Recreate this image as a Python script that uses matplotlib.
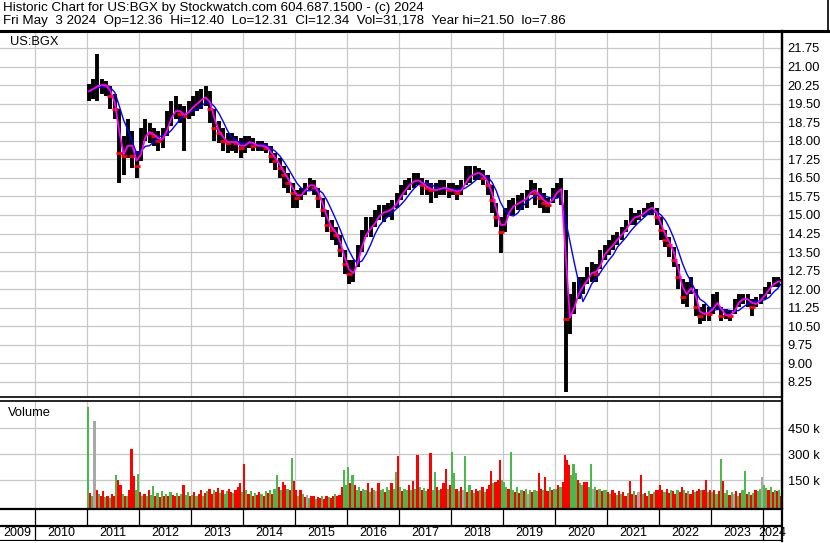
import numpy as np
import pandas as pd
import matplotlib
matplotlib.use("Agg")
import matplotlib.pyplot as plt
from matplotlib.lines import Line2D

plt.rcParams['font.family'] = ['Liberation Sans', 'DejaVu Sans']

# monthly bars, Jan 2011 .. May 2024 (last one is May 3)
close = [20.0, 20.2, 20.2, 20.3, 20.2, 19.8, 19.3, 17.5, 17.4, 18.2, 17.4, 17.0,
         17.9, 18.4, 18.3, 18.2, 18.0, 18.1, 18.7, 19.1, 19.3, 19.1, 19.0, 19.3,
         19.4, 19.6, 19.7, 19.8, 19.3, 18.5, 18.3, 18.0, 17.9, 18.0, 17.9, 17.7,
         17.9, 18.0, 17.8, 17.8, 17.8, 17.7, 17.4, 17.2, 16.9, 16.6, 16.3, 15.9,
         15.7, 15.9, 16.1, 16.3, 16.1, 15.7, 15.2, 14.6, 14.4, 14.2, 13.6, 13.0,
         12.6, 12.7, 13.4, 14.0, 14.4, 14.5, 14.8, 15.1, 15.1, 15.2, 15.3, 15.6,
         15.9, 16.1, 16.3, 16.4, 16.4, 16.2, 16.1, 16.0, 16.0, 16.1, 16.1, 16.0,
         16.0, 15.9, 16.1, 16.5, 16.6, 16.7, 16.7, 16.5, 16.2, 15.6, 14.9, 14.3,
         14.9, 15.3, 15.4, 15.5, 15.6, 15.7, 16.1, 15.9, 15.7, 15.5, 15.4, 15.8,
         16.0, 16.1, 10.8, 10.9, 11.6, 12.0, 12.2, 12.5, 12.8, 12.6, 13.3, 13.5,
         13.7, 13.9, 14.1, 14.3, 14.5, 14.9, 14.9, 15.0, 15.1, 15.3, 15.3, 14.9,
         14.4, 14.0, 13.8, 13.2, 12.5, 11.7, 11.9, 12.2, 11.3, 10.9, 11.1, 11.0,
         11.4, 11.5, 10.9, 11.0, 10.9, 11.3, 11.6, 11.6, 11.6, 11.3, 11.5, 11.6,
         11.9, 12.1, 12.3, 12.3, 12.34]
high = [20.3, 20.5, 21.5, 20.5, 20.4, 20.2, 19.9, 19.3, 18.2, 18.9, 18.4, 17.6,
        18.5, 18.9, 18.7, 18.5, 18.4, 18.5, 19.2, 19.6, 19.8, 19.5, 19.4, 19.6,
        19.8, 20.0, 20.1, 20.2, 20.0, 19.3, 18.8, 18.5, 18.3, 18.3, 18.2, 18.1,
        18.2, 18.2, 18.1, 18.0, 18.0, 17.9, 17.8, 17.5, 17.3, 17.0, 16.7, 16.3,
        16.0, 16.1, 16.3, 16.5, 16.4, 16.1, 15.7, 15.2, 14.8, 14.5, 14.2, 13.6,
        13.2, 13.2, 13.8, 14.4, 14.9, 14.9, 15.2, 15.4, 15.4, 15.5, 15.6, 15.9,
        16.2, 16.4, 16.5, 16.7, 16.7, 16.5, 16.4, 16.3, 16.3, 16.4, 16.4, 16.3,
        16.3, 16.2, 16.4, 17.0, 17.0, 17.0, 16.9, 16.8, 16.6, 16.2, 15.5, 14.9,
        15.3, 15.6, 15.7, 15.8, 15.9, 16.0, 16.4, 16.3, 16.1, 15.9, 15.7, 16.1,
        16.3, 16.5, 16.0, 11.8, 12.3, 12.5, 12.5, 12.9, 13.1, 13.0, 13.6, 13.8,
        14.0, 14.2, 14.3, 14.5, 14.8, 15.3, 15.1, 15.2, 15.3, 15.5, 15.53, 15.3,
        14.9, 14.4, 14.1, 13.7, 13.0, 12.4, 12.3, 12.5, 12.0, 11.3, 11.4, 11.3,
        11.8, 11.9, 11.3, 11.2, 11.1, 11.6, 11.8, 11.8, 11.8, 11.6, 11.7, 11.8,
        12.1, 12.3, 12.5, 12.5, 12.40]
low = [19.6, 19.7, 19.6, 19.9, 19.8, 19.3, 18.9, 16.3, 16.6, 17.3, 16.9, 16.5,
       17.2, 18.0, 17.9, 17.8, 17.6, 17.7, 18.2, 18.6, 18.9, 18.7, 17.6, 18.9,
       19.0, 19.2, 19.3, 19.4, 18.7, 18.0, 17.9, 17.6, 17.5, 17.6, 17.5, 17.3,
       17.5, 17.7, 17.6, 17.6, 17.6, 17.5, 17.1, 16.8, 16.5, 16.1, 15.9, 15.3,
       15.3, 15.6, 15.8, 16.0, 15.8, 15.3, 14.9, 14.3, 14.0, 13.8, 13.3, 12.6,
       12.2, 12.3, 12.9, 13.5, 14.1, 14.1, 14.5, 14.8, 14.7, 14.9, 14.8, 15.3,
       15.6, 15.8, 16.0, 16.1, 16.2, 15.8, 15.8, 15.5, 15.7, 15.8, 15.8, 15.7,
       15.8, 15.6, 15.8, 16.2, 16.3, 16.4, 16.4, 16.2, 15.8, 15.1, 14.5, 13.46,
       14.3, 15.0, 15.0, 15.2, 15.2, 15.3, 15.8, 15.4, 15.3, 15.1, 15.1, 15.5,
       15.7, 15.4, 7.86, 10.2, 11.0, 11.6, 11.8, 12.2, 12.3, 12.3, 12.8, 13.2,
       13.4, 13.6, 13.8, 14.0, 14.3, 14.6, 14.6, 14.8, 14.9, 15.0, 15.0, 14.6,
       14.0, 13.7, 13.3, 12.9, 12.0, 11.4, 11.3, 11.8, 10.9, 10.6, 10.7, 10.7,
       11.0, 11.2, 10.7, 10.8, 10.7, 11.0, 11.3, 11.4, 11.3, 10.9, 11.3, 11.4,
       11.6, 11.8, 12.1, 12.1, 12.31]

# half-month volume (thousands) and bar colour (g up, r down, n unchanged)
vol_2011 = [570, 75, 60, 490, 90, 70, 55, 85, 50, 60, 45, 70, 55, 180, 150, 120, 70, 55, 60, 90, 330, 175, 95, 185]
vol_2012 = [80, 60, 70, 55, 90, 65, 115, 60, 75, 50, 85, 60, 70, 55, 80, 65, 60, 75, 55, 70, 120, 65, 80, 60]
vol_2013 = [65, 80, 55, 70, 90, 60, 75, 85, 100, 70, 95, 80, 105, 75, 90, 70, 85, 100, 80, 75, 90, 110, 135, 80]
vol_2014 = [245, 95, 70, 85, 60, 75, 65, 80, 70, 60, 85, 75, 90, 70, 100, 180, 110, 95, 140, 120, 100, 95, 275, 145]
vol_2015 = [90, 60, 95, 70, 50, 65, 45, 55, 60, 40, 50, 45, 55, 40, 60, 50, 45, 55, 70, 60, 65, 110, 210, 120]
vol_2016 = [225, 130, 180, 120, 95, 110, 85, 100, 90, 130, 80, 105, 95, 85, 130, 90, 100, 80, 110, 90, 130, 100, 195, 290]
vol_2017 = [110, 85, 100, 95, 120, 90, 145, 100, 295, 110, 90, 105, 85, 100, 305, 95, 195, 110, 90, 100, 135, 215, 100, 120]
vol_2018 = [310, 190, 100, 85, 110, 95, 290, 80, 120, 90, 75, 100, 85, 95, 110, 80, 100, 120, 200, 130, 140, 150, 265, 150]
vol_2019 = [140, 110, 100, 310, 95, 80, 110, 75, 90, 85, 100, 70, 95, 80, 90, 85, 190, 100, 90, 170, 85, 110, 95, 100]
vol_2020 = [100, 120, 110, 140, 295, 265, 235, 180, 240, 190, 150, 130, 120, 140, 140, 110, 245, 100, 110, 90, 100, 85, 95, 90]
vol_2021 = [80, 70, 90, 75, 65, 85, 70, 80, 60, 75, 145, 70, 85, 65, 80, 180, 70, 75, 60, 85, 70, 80, 95, 90]
vol_2022 = [120, 90, 80, 100, 75, 90, 85, 70, 95, 80, 110, 90, 75, 85, 70, 90, 80, 85, 100, 90, 95, 150, 80, 90]
vol_2023 = [80, 95, 70, 85, 270, 145, 75, 90, 65, 80, 70, 85, 60, 75, 90, 200, 70, 80, 65, 75, 90, 85, 100, 165]
vol_2024 = [120, 105, 90, 110, 80, 95, 85, 95, 60]
col_codes = ("grgnrgrrgrgrrgrrgrgrrrgg"
             "rgrgrggrgrgrgrgrrgrgrggr"
             "grgrrgrgrrgrrgrggrrgrrrg"
             "rgrgrgrrgrgrgrggrgrrgrgr"
             "rgrgrngrrgrrgrrgrrgrrrgg"
             "grgrggrggrgrgnrggrggrggr"
             "grggrgrgrgrggrrggrgrrrgr"
             "ggrgrngrgrgrrgrgrrrgrrrg"
             "ggrggrgrgrgngrggrrgrrgrg"
             "grgrrrrgggrggrrggngrgrgg"
             "rgrrgrgrrgrrgrnrgrrgrgrr"
             "rrgrrgrrgrrgrgrrgrrgrrgr"
             "grgrgrggrgnrgrggrgrgrggn"
             "ggrgrgrgr")

years = list(range(2009, 2025))
price_ticks = [21.75, 21.00, 20.25, 19.50, 18.75, 18.00, 17.25, 16.50, 15.75, 15.00,
               14.25, 13.50, 12.75, 12.00, 11.25, 10.50, 9.75, 9.00, 8.25]
vol_ticks = [150, 300, 450]

W, H = 830, 543
x0, x1 = 2009.327, 2024.365


def decyear(d):
    d = pd.Timestamp(d)
    return d.year + (d.dayofyear - 1) / 365.25


months = pd.date_range('2011-01-01', periods=len(close) - 1, freq='MS') + pd.Timedelta(days=14)
mdates = np.array([decyear(d) for d in months] + [decyear('2024-05-03')])

vols = np.array(vol_2011 + vol_2012 + vol_2013 + vol_2014 + vol_2015 + vol_2016 + vol_2017
                + vol_2018 + vol_2019 + vol_2020 + vol_2021 + vol_2022 + vol_2023 + vol_2024)
vdates = 2011 + (np.arange(len(vols)) + 0.5) / 24
cmap = {'g': '#4cb84c', 'r': '#ff0000', 'n': '#a8a8a8'}
vcols = [cmap[c] for c in col_codes]

cl = pd.Series(close)
ma_short = cl.rolling(2, min_periods=1).mean()
ma_long = cl.rolling(5, min_periods=1).mean()

fig = plt.figure(figsize=(W / 100, H / 100), dpi=100)
grid_c = '#c8c8c8'
year_lines = years[1:]  # boundaries inside the view


def fbox(top, bottom):
    return [0, 1 - bottom / H, 782 / W, (bottom - top) / H]


# price panel
ax = fig.add_axes(fbox(31, 397))
ax.vlines(mdates, low, high, color='black', lw=2.8)
down = np.r_[False, np.diff(close) < 0]
ax.plot(mdates[down], np.array(close)[down], ls='none', marker='_', ms=4, mew=2, color='red')
ax.plot(mdates, ma_long, color='#0000ff', lw=1.0)
ax.plot(mdates, ma_short, color='#ff00ff', lw=1.3)
ax.set_yticks(price_ticks)
ax.set_yticklabels([f'{t:.2f}' for t in price_ticks])
ax.set_xticks(year_lines)
ax.set_xlim(x0, x1)
ax.set_ylim(7.643, 22.437)
ax.grid(True, color=grid_c, lw=0.9)
ax.set_axisbelow(True)
ax.yaxis.tick_right()
ax.tick_params(axis='y', length=0, pad=4, labelsize=9.3)
ax.tick_params(axis='x', length=0, labelbottom=False)
for s in ['left', 'top']:
    ax.spines[s].set_visible(False)
ax.spines['right'].set_linewidth(1.6)
ax.spines['bottom'].set_linewidth(1.2)
ax.text(10 / 782, 1 - 11 / 366, 'US:BGX', transform=ax.transAxes, fontsize=9.3, va='center')

# volume panel
axv = fig.add_axes(fbox(401, 509))
axv.bar(vdates, vols + 17.3, width=1 / 24, bottom=-17.3, color=vcols, lw=0)
axv.set_yticks(vol_ticks)
axv.set_yticklabels([f'{t} k' for t in vol_ticks])
axv.set_xticks(year_lines)
axv.set_xlim(x0, x1)
axv.set_ylim(-17.3, 606)
axv.grid(True, color=grid_c, lw=0.9)
axv.set_axisbelow(True)
axv.yaxis.tick_right()
axv.tick_params(axis='y', length=0, pad=4, labelsize=9.3)
axv.tick_params(axis='x', length=0, labelbottom=False)
axv.spines['left'].set_visible(False)
axv.spines['right'].set_linewidth(1.6)
axv.spines['top'].set_linewidth(1.2)
axv.spines['bottom'].set_linewidth(1.6)
axv.text(8 / 782, 1 - 12 / 108, 'Volume', transform=axv.transAxes, fontsize=9.3, va='center')

# date strip
axd = fig.add_axes(fbox(509, 541))
axd.set_xlim(x0, x1)
axd.set_ylim(0, 32)
axd.axis('off')
axd.axhline(15, color='black', lw=1.6)
axd.axhline(0.5, color='black', lw=1.6)
axd.vlines(year_lines, 15, 32, color='black', lw=0.9)
axd.vlines([2010, 2024], 0, 15, color='black', lw=0.9)
for y in years:
    lo_, hi_ = max(y, x0), min(y + 1, x1)
    axd.text((lo_ + hi_) / 2, 7.5, str(y), ha='center', va='center', fontsize=9)

# header
fig.text(3 / W, 1 - 8 / H, 'Historic Chart for US:BGX by Stockwatch.com 604.687.1500 - (c) 2024',
         fontsize=9.6, va='center')
fig.text(3 / W, 1 - 21 / H, 'Fri May  3 2024  Op=12.36  Hi=12.40  Lo=12.31  Cl=12.34  '
         'Vol=31,178  Year hi=21.50  lo=7.86', fontsize=9.6, va='center')
fig.add_artist(Line2D([0, 828 / W], [1 - 31 / H, 1 - 31 / H], color='black', lw=2.2,
                      transform=fig.transFigure))
fig.add_artist(Line2D([828 / W, 828 / W], [1, 1 - 31 / H], color='black', lw=1.2,
                      transform=fig.transFigure))
fig.add_artist(Line2D([782 / W, 782 / W], [1 - 31 / H, 1 - 541 / H], color='black', lw=1.6,
                      transform=fig.transFigure))

fig.savefig('out.png', dpi=100)
